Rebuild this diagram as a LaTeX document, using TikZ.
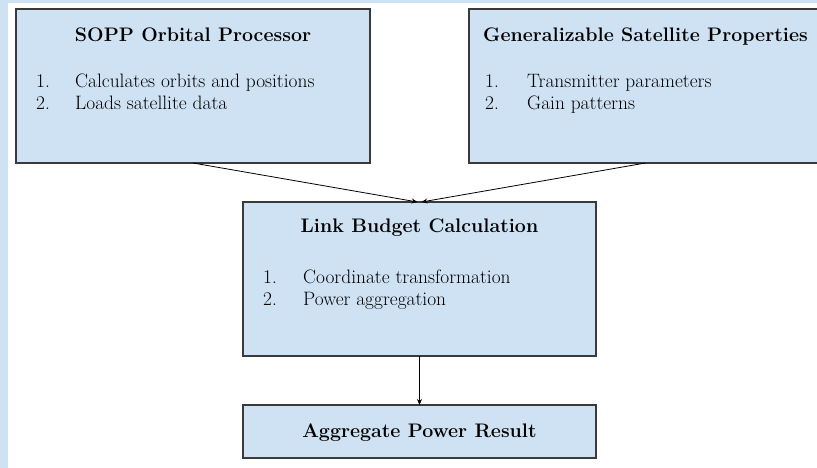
\documentclass[tikz,border=0pt]{standalone}
\usepackage{fontspec}
\usetikzlibrary{arrows.meta}
\definecolor{boxfill}{HTML}{CFE2F3}
\definecolor{boxline}{HTML}{3A3A3A}
\begin{document}
\begin{tikzpicture}[x=1pt,y=-1pt,
  box/.style={draw=boxline, line width=1.1pt, fill=boxfill, inner sep=0pt, outer sep=0pt, anchor=north west},
  titletext/.style={font=\rmfamily\fontsize{19.6}{24}\selectfont\bfseries, anchor=base, inner sep=0pt},
  itemtext/.style={font=\rmfamily\fontsize{19.4}{23}\selectfont, anchor=base west, inner sep=0pt},
  arr/.style={-{Stealth[length=6pt,width=5pt]}, line width=0.8pt, black}]
\useasboundingbox (0,0) rectangle (817,468);
\fill[boxfill] (0,0) rectangle (817,3);
\fill[boxfill] (0,0) rectangle (8,468);
% boxes
\node[box, minimum width=354pt, minimum height=154pt] (sopp) at (16,9) {};
\node[box, minimum width=353pt, minimum height=154pt] (gsp) at (469,9) {};
\node[box, minimum width=353pt, minimum height=154pt] (link) at (243,202) {};
\node[box, minimum width=353pt, minimum height=53pt] (agg) at (243,405) {};
% texts
\node[titletext] (t1) at ([yshift=-33pt]sopp.north) {SOPP Orbital Processor};
\node[itemtext] (n11) at ([xshift=20pt,yshift=-79pt]sopp.north west) {1.};
\node[itemtext] (i11) at ([xshift=59pt,yshift=-79pt]sopp.north west) {Calculates orbits and positions};
\node[itemtext] (n12) at ([xshift=20pt,yshift=-101pt]sopp.north west) {2.};
\node[itemtext] (i12) at ([xshift=59pt,yshift=-101pt]sopp.north west) {Loads satellite data};
\node[titletext] (t2) at ([yshift=-33pt]gsp.north) {Generalizable Satellite Properties};
\node[itemtext] (n21) at ([xshift=16pt,yshift=-79pt]gsp.north west) {1.};
\node[itemtext] (i21) at ([xshift=58pt,yshift=-79pt]gsp.north west) {Transmitter parameters};
\node[itemtext] (n22) at ([xshift=16pt,yshift=-101pt]gsp.north west) {2.};
\node[itemtext] (i22) at ([xshift=58pt,yshift=-101pt]gsp.north west) {Gain patterns};
\node[titletext] (t3) at ([yshift=-31pt]link.north) {Link Budget Calculation};
\node[itemtext] (n31) at ([xshift=20pt,yshift=-81pt]link.north west) {1.};
\node[itemtext] (i31) at ([xshift=60pt,yshift=-81pt]link.north west) {Coordinate transformation};
\node[itemtext] (n32) at ([xshift=20pt,yshift=-103pt]link.north west) {2.};
\node[itemtext] (i32) at ([xshift=60pt,yshift=-103pt]link.north west) {Power aggregation};
\node[titletext] (t4) at ([yshift=-32pt]agg.north) {Aggregate Power Result};
% arrows
\draw[arr] (sopp.south) -- ([xshift=-2pt]link.north);
\draw[arr] (gsp.south) -- ([xshift=2pt]link.north);
\draw[arr] (link.south) -- (agg.north);
\end{tikzpicture}
\end{document}
